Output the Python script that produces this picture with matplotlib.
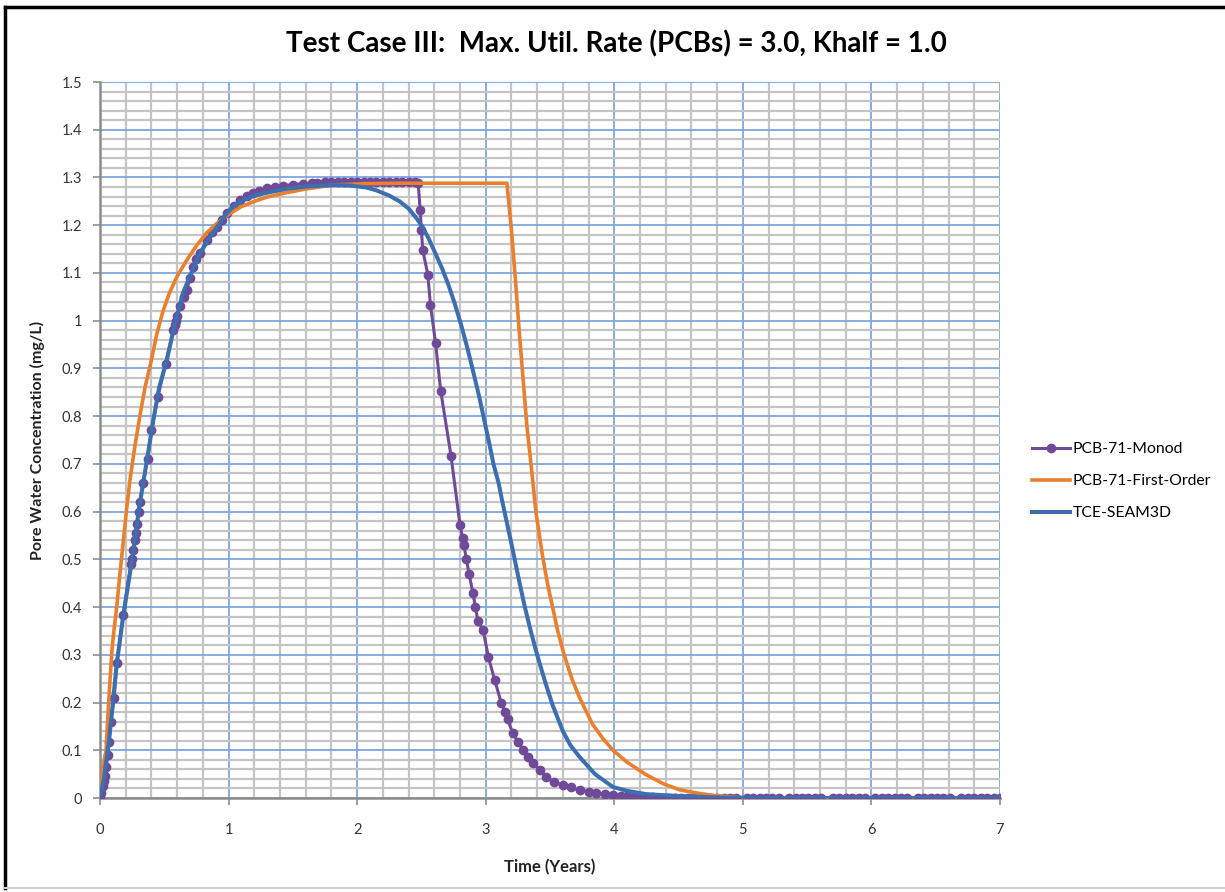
import numpy as np
import matplotlib.pyplot as plt
from matplotlib.lines import Line2D
from matplotlib.ticker import MultipleLocator

plt.rcParams['font.family'] = ['Lato', 'DejaVu Sans']

# ---- data (time in years, concentration in mg/L) ----
monod = [
    (0.0, 0.0), (0.01, 0.01), (0.02, 0.025), (0.03, 0.035), (0.039, 0.046),
    (0.047, 0.065), (0.062, 0.09), (0.07, 0.117), (0.086, 0.16), (0.11, 0.21),
    (0.13, 0.283), (0.18, 0.383), (0.24, 0.49), (0.25, 0.50), (0.26, 0.52),
    (0.27, 0.54), (0.28, 0.555), (0.29, 0.575), (0.30, 0.60), (0.31, 0.62),
    (0.335, 0.66), (0.37, 0.71), (0.40, 0.77), (0.45, 0.84), (0.51, 0.91),
    (0.57, 0.98), (0.58, 0.99), (0.59, 1.0), (0.60, 1.01), (0.62, 1.03),
    (0.65, 1.05), (0.675, 1.065), (0.70, 1.09), (0.725, 1.113), (0.75, 1.13),
    (0.78, 1.142), (0.83, 1.17), (0.87, 1.185), (0.91, 1.196), (0.95, 1.21),
    (0.99, 1.225), (1.04, 1.24), (1.09, 1.253), (1.14, 1.262), (1.19, 1.267),
    (1.24, 1.272), (1.30, 1.277), (1.36, 1.28), (1.42, 1.283), (1.50, 1.285),
    (1.58, 1.287), (1.65, 1.288), (1.69, 1.289), (1.75, 1.29), (1.80, 1.29),
    (1.85, 1.29), (1.90, 1.29), (1.95, 1.29), (2.00, 1.29), (2.05, 1.29),
    (2.10, 1.29), (2.15, 1.29), (2.20, 1.29), (2.25, 1.29), (2.30, 1.29),
    (2.35, 1.29), (2.40, 1.29), (2.45, 1.29), (2.475, 1.288), (2.49, 1.232),
    (2.50, 1.19), (2.51, 1.148), (2.55, 1.096), (2.57, 1.033), (2.61, 0.953),
    (2.65, 0.853), (2.73, 0.717), (2.80, 0.572), (2.82, 0.545), (2.83, 0.53),
    (2.85, 0.50), (2.87, 0.47), (2.90, 0.43), (2.92, 0.40), (2.94, 0.37),
    (2.98, 0.352), (3.02, 0.296), (3.07, 0.247), (3.12, 0.20), (3.15, 0.18),
    (3.17, 0.165), (3.21, 0.136), (3.25, 0.118), (3.29, 0.10), (3.33, 0.085),
    (3.37, 0.073), (3.42, 0.058), (3.47, 0.044), (3.53, 0.034), (3.60, 0.027),
    (3.66, 0.022), (3.73, 0.017), (3.80, 0.013), (3.86, 0.010), (3.93, 0.008),
    (3.99, 0.006), (4.05, 0.005), (4.10, 0.004), (4.15, 0.003), (4.20, 0.003),
    (4.25, 0.002), (4.30, 0.002), (4.35, 0.001), (4.42, 0.001), (4.47, 0.001),
    (4.52, 0.0), (4.57, 0.0), (4.62, 0.0), (4.70, 0.0), (4.75, 0.0),
    (4.80, 0.0), (4.85, 0.0), (4.90, 0.0), (4.95, 0.0), (5.03, 0.0),
    (5.08, 0.0), (5.13, 0.0), (5.18, 0.0), (5.23, 0.0), (5.28, 0.0),
    (5.36, 0.0), (5.41, 0.0), (5.46, 0.0), (5.51, 0.0), (5.56, 0.0),
    (5.61, 0.0), (5.70, 0.0), (5.75, 0.0), (5.80, 0.0), (5.85, 0.0),
    (5.90, 0.0), (5.95, 0.0), (6.03, 0.0), (6.08, 0.0), (6.13, 0.0),
    (6.18, 0.0), (6.23, 0.0), (6.28, 0.0), (6.36, 0.0), (6.41, 0.0),
    (6.46, 0.0), (6.51, 0.0), (6.56, 0.0), (6.61, 0.0), (6.70, 0.0),
    (6.75, 0.0), (6.80, 0.0), (6.85, 0.0), (6.90, 0.0), (6.95, 0.0),
    (7.00, 0.0),
]

first_order = [
    (0.0, 0.0), (0.015, 0.04), (0.03, 0.075), (0.047, 0.10), (0.065, 0.19),
    (0.078, 0.247), (0.093, 0.31), (0.11, 0.355), (0.13, 0.40), (0.155, 0.47),
    (0.18, 0.534), (0.205, 0.60), (0.233, 0.666), (0.27, 0.735), (0.31, 0.80),
    (0.35, 0.86), (0.40, 0.918), (0.44, 0.97), (0.49, 1.02), (0.54, 1.058),
    (0.60, 1.093), (0.675, 1.127), (0.75, 1.157), (0.83, 1.184), (0.91, 1.204),
    (0.99, 1.221), (1.10, 1.239), (1.20, 1.25), (1.30, 1.259), (1.45, 1.268),
    (1.60, 1.276), (1.81, 1.284), (2.05, 1.287), (2.33, 1.288), (2.80, 1.288),
    (3.165, 1.288), (3.20, 1.19), (3.23, 1.09), (3.26, 0.98), (3.29, 0.88),
    (3.32, 0.78), (3.36, 0.68), (3.39, 0.60), (3.44, 0.51), (3.48, 0.45),
    (3.52, 0.40), (3.56, 0.35), (3.61, 0.30), (3.67, 0.25), (3.73, 0.21),
    (3.83, 0.155), (3.91, 0.125), (3.99, 0.10), (4.10, 0.075), (4.24, 0.05),
    (4.38, 0.03), (4.51, 0.017), (4.65, 0.01), (4.78, 0.005), (4.92, 0.002),
    (5.05, 0.0), (6.0, 0.0), (7.0, 0.0),
]

seam3d = [
    (0.0, 0.0), (0.03, 0.04), (0.07, 0.12), (0.10, 0.20), (0.13, 0.28),
    (0.18, 0.38), (0.25, 0.50), (0.30, 0.60), (0.36, 0.70), (0.42, 0.80),
    (0.46, 0.86), (0.52, 0.918), (0.58, 0.99), (0.645, 1.058), (0.71, 1.10),
    (0.78, 1.142), (0.85, 1.172), (0.91, 1.196), (0.97, 1.219), (1.03, 1.238),
    (1.12, 1.253), (1.20, 1.262), (1.30, 1.268), (1.45, 1.276), (1.60, 1.281),
    (1.81, 1.284), (1.95, 1.283), (2.07, 1.279), (2.15, 1.273), (2.25, 1.262),
    (2.33, 1.25), (2.40, 1.235), (2.46, 1.215), (2.51, 1.196), (2.56, 1.17),
    (2.61, 1.14), (2.66, 1.11), (2.71, 1.075), (2.76, 1.035), (2.81, 0.99),
    (2.86, 0.94), (2.91, 0.885), (2.95, 0.84), (2.99, 0.79), (3.03, 0.74),
    (3.06, 0.70), (3.10, 0.66), (3.13, 0.62), (3.17, 0.57), (3.21, 0.52),
    (3.26, 0.455), (3.30, 0.405), (3.35, 0.35), (3.40, 0.30), (3.46, 0.245),
    (3.52, 0.195), (3.60, 0.14), (3.66, 0.11), (3.73, 0.086), (3.85, 0.05),
    (3.99, 0.023), (4.10, 0.015), (4.25, 0.008), (4.38, 0.006), (4.60, 0.003),
    (4.82, 0.001), (5.2, 0.0), (6.0, 0.0), (7.0, 0.0),
]

labels = ['PCB-71-Monod', 'PCB-71-First-Order', 'TCE-SEAM3D']
colors = ['#6f4a99', '#ea7f2e', '#3b6fb0']

mon_t, mon_c = np.array(monod).T
fo_t, fo_c = np.array(first_order).T
se_t, se_c = np.array(seam3d).T

# ---- figure ----
fig = plt.figure(figsize=(12.25, 8.92), dpi=100)
ax = fig.add_axes([100 / 1225, 1 - 798 / 892, 900 / 1225, 716 / 892])

ax.plot(mon_t, mon_c, color=colors[0], lw=2.2, marker='o', ms=6,
        label=labels[0], zorder=3)
ax.plot(fo_t, fo_c, color=colors[1], lw=2.6, label=labels[1], zorder=4)
ax.plot(se_t, se_c, color=colors[2], lw=2.9, label=labels[2], zorder=5)

ax.set_xlim(0, 7)
ax.set_ylim(0, 1.5)
ax.xaxis.set_major_locator(MultipleLocator(1))
ax.xaxis.set_minor_locator(MultipleLocator(0.2))
ax.yaxis.set_minor_locator(MultipleLocator(0.02))
ax.set_yticks(np.arange(0, 1.51, 0.1))
ax.set_yticklabels(['0', '0.1', '0.2', '0.3', '0.4', '0.5', '0.6', '0.7',
                    '0.8', '0.9', '1', '1.1', '1.2', '1.3', '1.4', '1.5'])

ax.grid(which='minor', color='#c4c4c4', lw=1.6, zorder=0)
ax.grid(which='major', color='#7ea6dd', lw=1.3, zorder=1)
ax.set_axisbelow(True)

for s in ['top', 'right']:
    ax.spines[s].set_visible(False)
for s in ['left', 'bottom']:
    ax.spines[s].set_color('#8c8c8c')
    ax.spines[s].set_linewidth(1.8)

ax.tick_params(which='major', length=5, width=1.2, color='#8c8c8c',
               labelsize=10.5, labelcolor='#333333', pad=8)
ax.tick_params(which='minor', length=0)
ax.tick_params(axis='x', pad=13)

ax.set_xlabel('Time (Years)', fontsize=12, fontweight='bold', labelpad=16,
              color='#222222')
ax.set_ylabel('Pore Water Concentration (mg/L)', fontsize=11.5,
              fontweight='bold', labelpad=12, color='#222222')
fig.text(616 / 1225, 1 - 44 / 892,
         'Test Case III:  Max. Util. Rate (PCBs) = 3.0, Khalf = 1.0',
         ha='center', va='center', fontsize=20, fontweight='bold')

ax.legend(loc='upper left', bbox_to_anchor=(1018 / 1225, 1 - 428 / 892),
          bbox_transform=fig.transFigure, frameon=False, fontsize=11.3,
          handlelength=2.4, labelspacing=1.15, handletextpad=0.2)

# chart border
fig.add_artist(Line2D([5 / 1225, 1], [1 - 7 / 892, 1 - 7 / 892],
                      transform=fig.transFigure, color='black', lw=2.5))
fig.add_artist(Line2D([5 / 1225, 5 / 1225], [1 - 7 / 892, 1 - 888 / 892],
                      transform=fig.transFigure, color='black', lw=2.5))
fig.add_artist(Line2D([5 / 1225, 1], [1 - 888 / 892, 1 - 888 / 892],
                      transform=fig.transFigure, color='#d0d0d0', lw=1.5))

fig.savefig('out.png', dpi=100)
